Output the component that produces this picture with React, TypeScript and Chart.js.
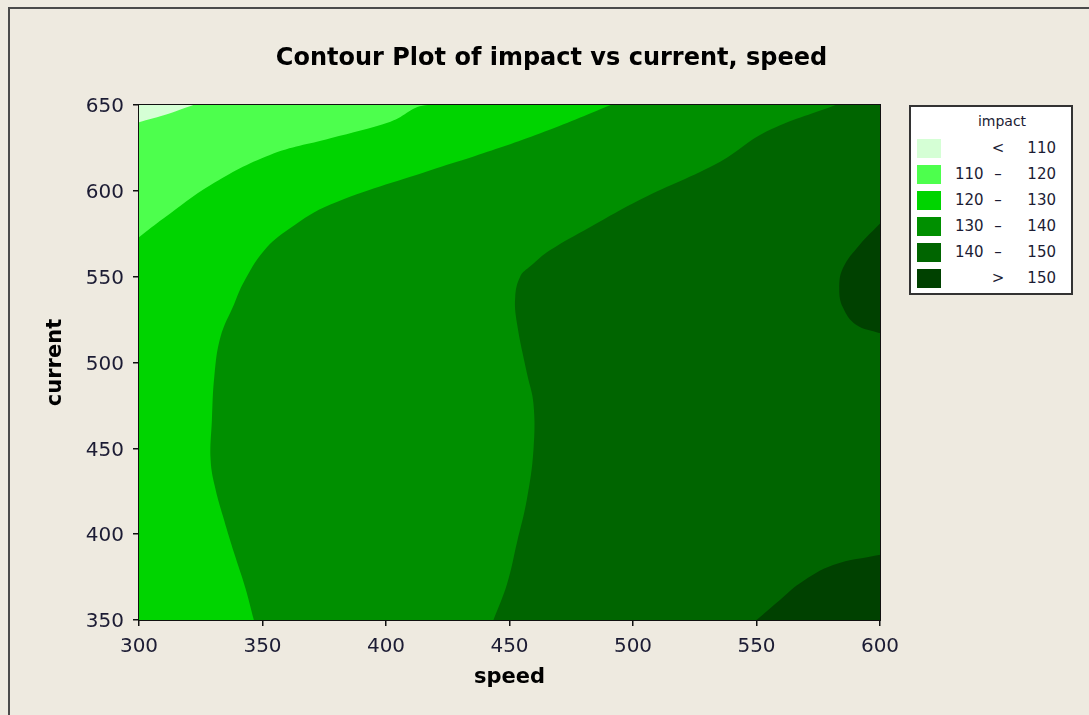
import React, { useEffect, useRef } from 'react';
import { Chart, registerables } from 'chart.js';

Chart.register(...registerables);

// ---------- texts ----------
const titleText = 'Contour Plot of impact vs current, speed';
const xTitle = 'speed';
const yTitle = 'current';
const legendTitle = 'impact';

// ---------- ticks ----------
const speedTicks = [300, 350, 400, 450, 500, 550, 600];
const currentTicks = [350, 400, 450, 500, 550, 600, 650];

// ---------- contour levels (legend) ----------
const levelColors = ['#D5FFD5', '#4DFF4D', '#00D400', '#008F00', '#006500', '#004100'];
const legendLow = ['', '110', '120', '130', '140', ''];
const legendOp = ['<', '–', '–', '–', '–', '>'];
const legendHigh = ['110', '120', '130', '140', '150', '150'];

// ---------- contour boundaries (speed, current) ----------
// whole plot region (110 - 120 base)
const baseSpeed = [300, 600];
const baseCurrent = [650, 650];
// boundary 120 (region below/right is >= 120)
const c120Speed = [300, 310, 329, 353, 377.5, 401.8, 417, 600];
const c120Current = [573, 584, 603.4, 620.9, 630.6, 640.3, 650, 650];
// boundary 110 (region above/left is < 110)
const c110Speed = [300, 310, 322];
const c110Current = [640, 644, 650];
// boundary 130 (region right is >= 130)
const c130Current = [350, 369, 389, 408, 426, 443, 466, 492, 515, 534, 547, 565, 578, 592, 612, 620, 633.5, 650];
const c130Speed = [346.5, 343, 338.5, 334.5, 331, 329, 329.5, 330.5, 333, 338.5, 342.5, 350.5, 361, 377.5, 418, 435.5, 462.5, 491];
// boundary 140 (region right is >= 140)
const c140Current = [350, 371, 395, 420, 449, 476, 494, 523, 538, 550, 556, 565.5, 579, 595, 617, 634.5, 650];
const c140Speed = [443.5, 449, 453, 457, 459.7, 459.7, 457, 453, 452.3, 454.3, 458.4, 466.5, 482.7, 503, 535.3, 554, 582];
// boundary 150, middle-right blob
const c150aCurrent = [517, 522, 532, 543, 555, 568.5, 581];
const c150aSpeed = [600, 590.3, 585, 583.5, 585, 591.7, 600];
// boundary 150, bottom-right blob
const c150bCurrent = [350, 361.7, 371.4, 382, 388];
const c150bSpeed = [550, 559.5, 567.6, 581, 600];

const FONT = '"DejaVu Sans", "Liberation Sans", sans-serif';
const BG = '#EEEAE0';
const TICK_COLOR = '#1c1c34';

const pts = (xs: number[], ys: number[]) => xs.map((x, i) => ({ x, y: ys[i] }));

function layer(points: { x: number; y: number }[], color: string, fillValue: number, indexAxis: 'x' | 'y', order: number) {
  return {
    type: 'line' as const,
    data: points,
    indexAxis,
    fill: { value: fillValue },
    backgroundColor: color,
    borderColor: color,
    borderWidth: 0,
    pointRadius: 0,
    pointHoverRadius: 0,
    tension: 0.4,
    order,
  };
}

function ContourChart() {
  const ref = useRef<HTMLCanvasElement | null>(null);
  useEffect(() => {
    if (!ref.current) return;
    const datasets = [
      layer(pts(baseSpeed, baseCurrent), levelColors[1], 350, 'x', 10),
      layer(pts(c120Speed, c120Current), levelColors[2], 350, 'x', 9),
      layer(pts(c110Speed, c110Current), levelColors[0], 650, 'x', 8),
      layer(pts(c130Speed, c130Current), levelColors[3], 600, 'y', 7),
      layer(pts(c140Speed, c140Current), levelColors[4], 600, 'y', 6),
      layer(pts(c150aSpeed, c150aCurrent), levelColors[5], 600, 'y', 5),
      layer(pts(c150bSpeed, c150bCurrent), levelColors[5], 600, 'y', 4),
    ];
    const axisBorder = { display: true, color: '#111', width: 2 };
    const tickGrid = { display: true, drawOnChartArea: false, drawTicks: true, tickLength: 6, color: '#111', lineWidth: 1.5 };
    const frameGrid = { display: true, drawOnChartArea: false, drawTicks: false };
    const chart = new Chart(ref.current, {
      type: 'line',
      data: { datasets: datasets as any },
      options: {
        animation: false,
        responsive: false,
        devicePixelRatio: 1,
        events: [],
        layout: { padding: { left: 14, right: 0, top: 0, bottom: 0 } },
        plugins: {
          legend: { display: false },
          tooltip: { enabled: false },
          title: {
            display: true,
            text: titleText,
            color: '#000',
            font: { family: FONT, size: 24, weight: 'bold' },
            padding: { top: 44, bottom: 0 },
          },
        },
        scales: {
          x: {
            type: 'linear',
            position: 'bottom',
            min: 300,
            max: 600,
            afterBuildTicks: (s: any) => { s.ticks = speedTicks.map((v) => ({ value: v })); },
            ticks: { color: TICK_COLOR, font: { family: FONT, size: 20 }, padding: 9, maxRotation: 0, autoSkip: false },
            grid: tickGrid,
            border: axisBorder,
            title: { display: true, text: xTitle, color: '#000', font: { family: FONT, size: 21, weight: 'bold' }, padding: { top: 0, bottom: 25 } },
            afterFit: (s: any) => { s.height = 95; },
          },
          y: {
            type: 'linear',
            position: 'left',
            min: 350,
            max: 650,
            afterBuildTicks: (s: any) => { s.ticks = currentTicks.map((v) => ({ value: v })); },
            ticks: { color: TICK_COLOR, font: { family: FONT, size: 20 }, padding: 9, labelOffset: 2, autoSkip: false },
            grid: tickGrid,
            border: axisBorder,
            title: { display: true, text: yTitle, color: '#000', font: { family: FONT, size: 21, weight: 'bold' }, padding: { top: 29, bottom: 0 } },
            afterFit: (s: any) => { s.width = 125; },
          },
          x2: {
            type: 'linear',
            position: 'top',
            min: 300,
            max: 600,
            ticks: { display: false },
            grid: frameGrid,
            border: axisBorder,
            afterFit: (s: any) => { s.height = 32.2; },
          },
          y2: {
            type: 'linear',
            position: 'right',
            min: 350,
            max: 650,
            ticks: { display: false },
            grid: frameGrid,
            border: axisBorder,
            afterFit: (s: any) => { s.width = 209; },
          },
        },
      } as any,
    });
    return () => chart.destroy();
  }, []);
  return <canvas ref={ref} width={1089} height={715} style={{ position: 'absolute', left: 0, top: 0, width: 1089, height: 715 }} />;
}

function Legend() {
  const txt: React.CSSProperties = {
    position: 'absolute',
    fontFamily: FONT,
    fontSize: 15,
    lineHeight: '19px',
    height: 19,
    color: TICK_COLOR,
    whiteSpace: 'nowrap',
  };
  return (
    <div
      style={{
        position: 'absolute',
        left: 909,
        top: 105,
        width: 164,
        height: 190,
        boxSizing: 'border-box',
        border: '2px solid #333',
        background: '#fff',
      }}
    >
      <div style={{ ...txt, left: 50, width: 82, textAlign: 'center', top: 5, fontSize: 14 }}>{legendTitle}</div>
      {levelColors.map((c, i) => (
        <React.Fragment key={i}>
          <div style={{ position: 'absolute', left: 6, top: 32 + 26 * i, width: 24, height: 19, background: c }} />
          <div style={{ ...txt, left: 44, top: 32 + 26 * i }}>{legendLow[i]}</div>
          <div style={{ ...txt, left: 77, width: 20, textAlign: 'center', top: 32 + 26 * i }}>{legendOp[i]}</div>
          <div style={{ ...txt, left: 105, width: 40, textAlign: 'right', top: 32 + 26 * i }}>{legendHigh[i]}</div>
        </React.Fragment>
      ))}
    </div>
  );
}

export default function App() {
  return (
    <div style={{ position: 'fixed', left: 0, top: 0, width: 1089, height: 715, overflow: 'hidden', background: BG }}>
      <div
        style={{
          position: 'absolute',
          left: 8,
          top: 7,
          width: 1200,
          height: 800,
          borderLeft: '2px solid #4a4a4a',
          borderTop: '2px solid #4a4a4a',
        }}
      />
      <ContourChart />
      <Legend />
    </div>
  );
}
